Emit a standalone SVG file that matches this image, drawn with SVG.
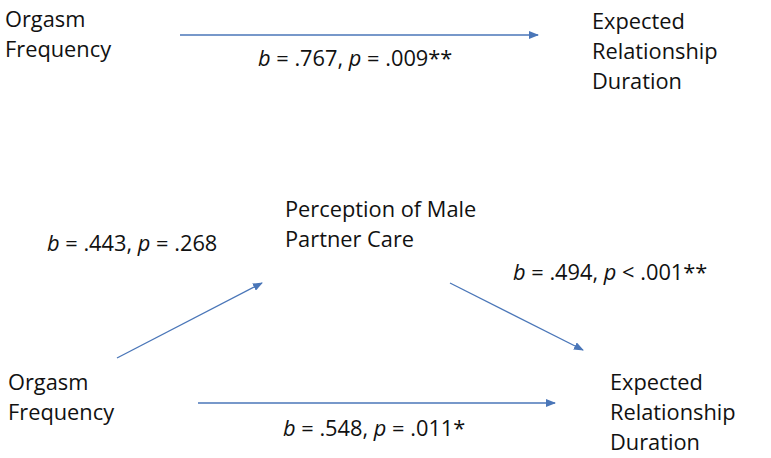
<svg xmlns="http://www.w3.org/2000/svg" width="771" height="458" viewBox="0 0 771 458">
<style>
text{font-family:"Open Sans","Liberation Sans",sans-serif;font-size:21.8px;fill:#111}
.c line{stroke:#4a76b8;stroke-width:1.3;marker-end:url(#a)}
</style>
<defs><marker id="a" markerWidth="10" markerHeight="8" refX="9" refY="4" orient="auto" markerUnits="userSpaceOnUse"><path d="M0,0L10,4L0,8z" fill="#4a76b8"/></marker></defs>
<rect width="771" height="458" fill="#fff"/>
<g class="c">
<line x1="180" y1="35" x2="538" y2="35"/>
<line x1="117" y1="358" x2="262" y2="283"/>
<line x1="450" y1="283" x2="583" y2="350"/>
<line x1="198" y1="403" x2="555" y2="403"/>
</g>
<g id="of1"><text x="5" y="27">Orgasm</text><text x="5" y="57">Frequency</text></g>
<g id="erd1"><text x="592" y="29">Expected</text><text x="592" y="59">Relationship</text><text x="592" y="89">Duration</text></g>
<g id="pmc"><text x="285" y="217">Perception of Male</text><text x="285" y="247">Partner Care</text></g>
<g id="of2"><text x="8" y="390">Orgasm</text><text x="8" y="420">Frequency</text></g>
<g id="erd2"><text x="610" y="390">Expected</text><text x="610" y="420">Relationship</text><text x="610" y="450">Duration</text></g>
<g id="labels">
<text x="258" y="66"><tspan font-style="italic">b</tspan> = .767, <tspan font-style="italic">p</tspan> = .009**</text>
<text x="47" y="251"><tspan font-style="italic">b</tspan> = .443, <tspan font-style="italic">p</tspan> = .268</text>
<text x="513" y="280"><tspan font-style="italic">b</tspan> = .494, <tspan font-style="italic">p</tspan> &lt; .001**</text>
<text x="283" y="436"><tspan font-style="italic">b</tspan> = .548, <tspan font-style="italic">p</tspan> = .011*</text>
</g>
</svg>
